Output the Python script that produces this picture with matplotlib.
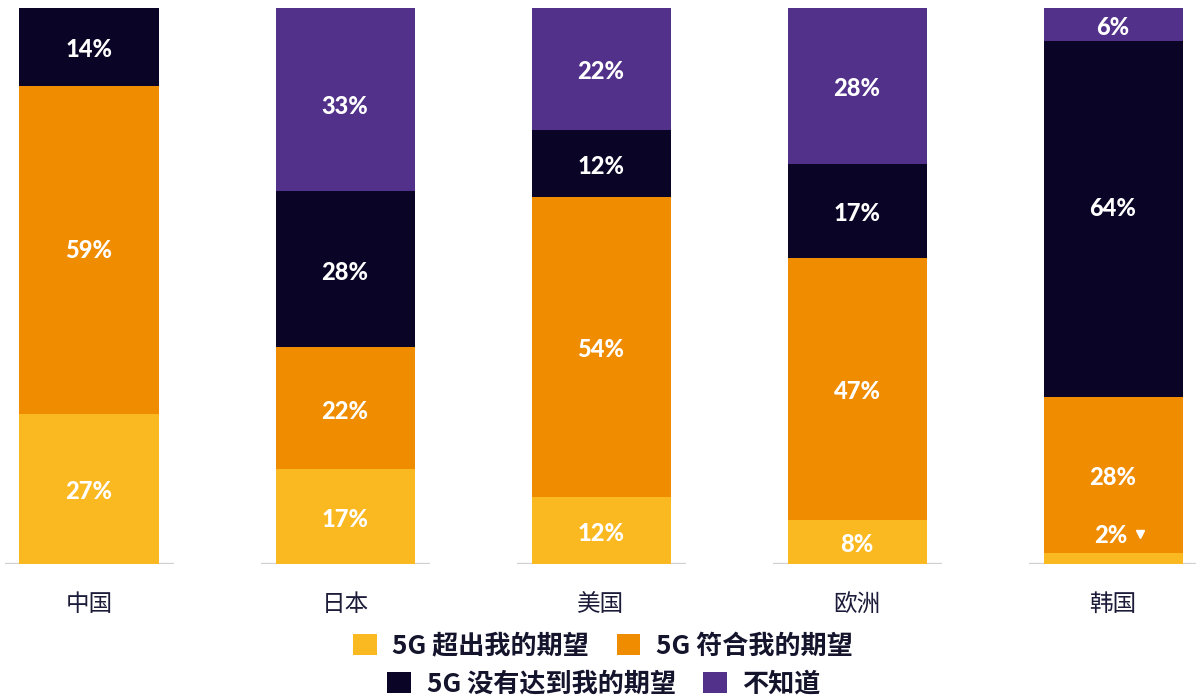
import matplotlib
matplotlib.use("Agg")
import matplotlib.pyplot as plt
import numpy as np

regions = ["中国", "日本", "美国", "欧洲", "韩国"]
series_names = ["5G 超出我的期望", "5G 符合我的期望", "5G 没有达到我的期望", "不知道"]
exceeded = [27, 17, 12, 8, 2]
met = [59, 22, 54, 47, 28]
not_met = [14, 28, 12, 17, 64]
dont_know = [0, 33, 22, 28, 6]
colors = ["#FBB921", "#F08C00", "#0A0426", "#51318A"]

W, H = 1196, 698
fig = plt.figure(figsize=(W / 100, H / 100), dpi=100)
ax = fig.add_axes([0, (H - 564) / H, 1, (564 - 8) / H])
ax.set_xlim(-89 / 256, (W - 89) / 256)
ax.set_ylim(0, 100)
ax.axis("off")

x = np.arange(len(regions))
width = 139 / 256
values = [exceeded, met, not_met, dont_know]
# small manual label nudges (series index, region index) -> data units
nudges = {(2, 4): 2.5, (3, 1): -0.8, (1, 0): 0.4}
bottom = np.zeros(len(regions))
handles = []
num_font = dict(family=["Lato", "DejaVu Sans"], weight=900, fontsize=17, color="white")
for si, (vals, col, name) in enumerate(zip(values, colors, series_names)):
    vals = np.array(vals, dtype=float)
    b = ax.bar(x, vals, width, bottom=bottom, color=col, label=name, zorder=2)
    handles.append(b)
    for xi, v, bt in zip(x, vals, bottom):
        if v <= 0:
            continue
        if v < 4:
            ax.text(xi - 0.01, bt + v + 3.2, f"{int(v)}%", ha="center", va="center", **num_font, zorder=4)
            ax.plot([xi + 0.105], [bt + v + 3.4], marker="v", color="white", markersize=6, zorder=4)
        else:
            yy = bt + v / 2 - 0.5 + nudges.get((si, xi), 0)
            ax.text(xi, yy, f"{int(v)}%", ha="center", va="center", **num_font, zorder=4)
    bottom += vals

for xi in x:
    ax.hlines(0, xi - 0.328, xi + 0.332, color="#cfcfcf", linewidth=1.6, zorder=1)

for xi, name in zip(x, regions):
    ax.text(xi, -7.3, name, ha="center", va="center", fontsize=17,
            family=["Noto Sans CJK SC", "DejaVu Sans"], color="#1c1c3a")

leg_kw = dict(frameon=False, handlelength=0.9, handleheight=0.9, handletextpad=0.6,
              columnspacing=1.05, borderaxespad=0, borderpad=0,
              prop=dict(family=["Noto Sans CJK SC", "DejaVu Sans"], weight="bold", size=18.8))
leg1 = fig.legend(handles[:2], series_names[:2], ncol=2, loc="center",
                  bbox_to_anchor=(603 / W, (H - 646) / H), labelcolor="#14142d", **leg_kw)
leg2 = fig.legend(handles[2:], series_names[2:], ncol=2, loc="center",
                  bbox_to_anchor=(604 / W, (H - 684) / H), labelcolor="#14142d", **leg_kw)

fig.savefig("out.png", dpi=100)
